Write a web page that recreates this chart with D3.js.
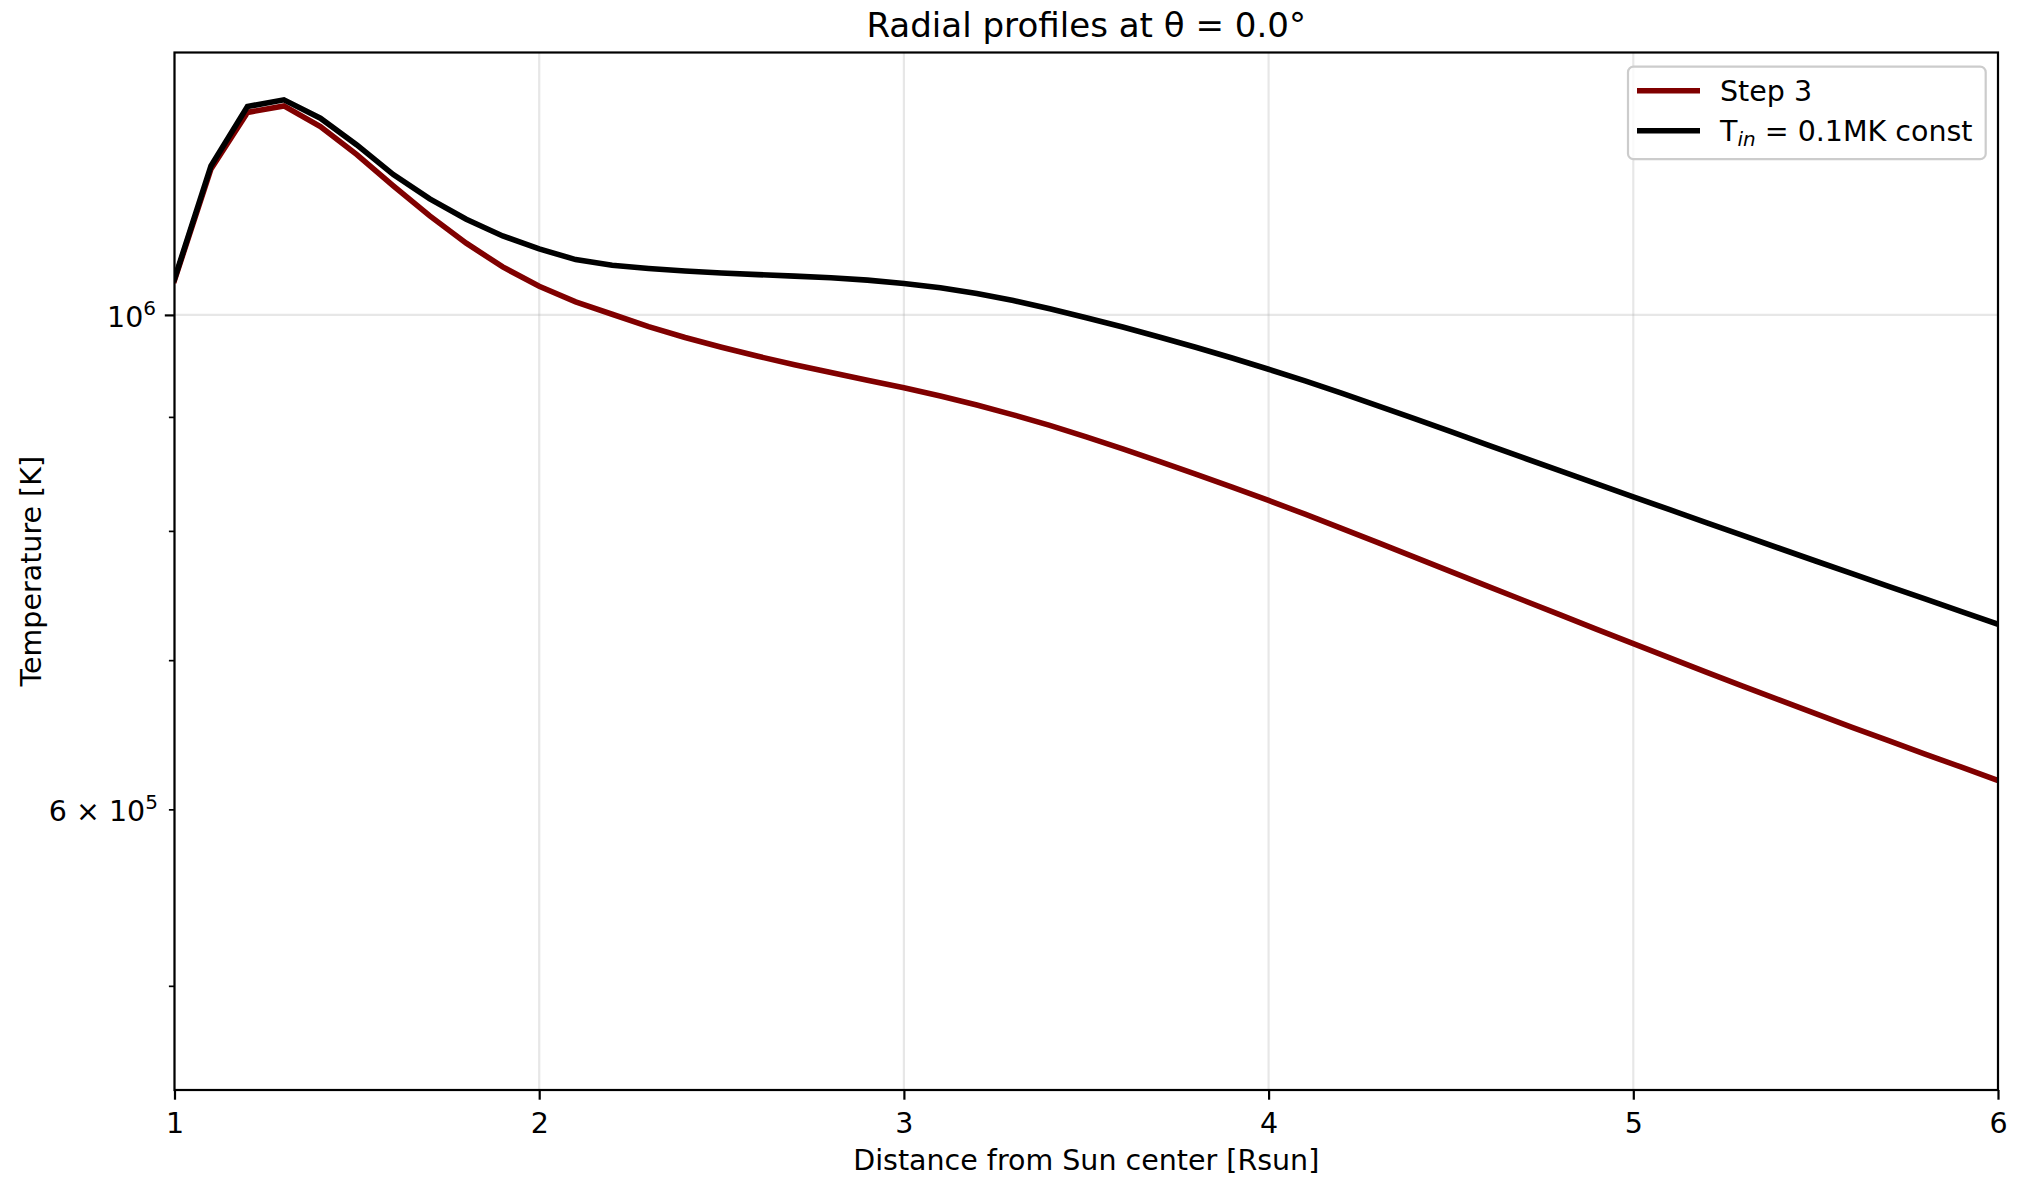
<!DOCTYPE html>
<html>
<head>
<meta charset="utf-8">
<script src="https://cdn.jsdelivr.net/npm/d3@7"></script>
<style>
  html, body { margin: 0; padding: 0; background: #fff; }
  svg text { font-family: "DejaVu Sans", sans-serif; fill: #000; }
</style>
</head>
<body>
<svg id="chart" width="2023" height="1179"></svg>
<script>
// Radial sample points [Rsun]
const radius = [
  1.0, 1.1, 1.2, 1.3, 1.4, 1.5, 1.6, 1.7, 1.8, 1.9,
  2.0, 2.1, 2.2, 2.3, 2.4, 2.5, 2.6, 2.7, 2.8, 2.9,
  3.0, 3.1, 3.2, 3.3, 3.4, 3.5, 3.6, 3.7, 3.8, 3.9,
  4.0, 4.1, 4.2, 4.3, 4.4, 4.5, 4.6, 4.7, 4.8, 4.9,
  5.0, 5.1, 5.2, 5.3, 5.4, 5.5, 5.6, 5.7, 5.8, 5.9,
  6.0
];

// Temperature [K], "Step 3" run
const tempStep3 = [
  1036500, 1162800, 1232700, 1241000, 1214800, 1180100, 1142600, 1107700, 1076900, 1050800,
  1030100, 1013500, 1000700, 987900, 976900, 967100, 958100, 949900, 942200, 934700,
  927500, 919600, 911100, 901900, 892100, 881600, 870700, 859600, 848400, 837100,
  825600, 813900, 802100, 790300, 778700, 767100, 755700, 744500, 733500, 722600,
  712000, 701600, 691400, 681500, 671800, 662300, 653100, 644100, 635300, 626700,
  618200
];

// Temperature [K], constant inner boundary T_in = 0.1 MK
const tempConst = [
  1037900, 1166400, 1240200, 1248800, 1225400, 1192000, 1156000, 1127300, 1103900, 1085000,
  1070600, 1058800, 1052700, 1049200, 1046400, 1044200, 1042500, 1040900, 1039100, 1036600,
  1033000, 1028500, 1022400, 1015000, 1006400, 997100, 987500, 977400, 967100, 956400,
  945400, 934100, 922400, 910400, 898400, 886300, 874400, 862600, 851100, 839800,
  828700, 817700, 806900, 796300, 785800, 775500, 765400, 755500, 745700, 736000,
  726400
];

const xTicks = [1, 2, 3, 4, 5, 6];
const yMajorTicks = [1e6];
const yMinorTicks = [5e5, 6e5, 7e5, 8e5, 9e5];
const yMinorLabels = { 600000: ["6 \u00d7 10", "5"] };

const seriesNames = ["Step 3", "T_in = 0.1MK const"];
const seriesColors = ["#800000", "#000000"];

const svg = d3.select("#chart");
const plotLeft = 174.5, plotRight = 1998, plotTop = 52.5, plotBottom = 1090;
const fs = 28.5, fsSmall = 20, fsTitle = 34.1;

const x = d3.scaleLinear().domain([1, 6]).range([plotLeft, plotRight]);
const y = d3.scaleLog().domain([448990, 1311400]).range([plotBottom, plotTop]);

// grid
const grid = svg.append("g").attr("stroke", "#b0b0b0").attr("stroke-opacity", 0.3).attr("stroke-width", 2.2);
grid.selectAll("line.gx").data(xTicks).join("line").attr("class", "gx")
  .attr("x1", d => x(d)).attr("x2", d => x(d)).attr("y1", plotTop).attr("y2", plotBottom);
grid.selectAll("line.gy").data(yMajorTicks).join("line").attr("class", "gy")
  .attr("x1", plotLeft).attr("x2", plotRight).attr("y1", d => y(d)).attr("y2", d => y(d));

// data lines
svg.append("defs").append("clipPath").attr("id", "plotclip")
  .append("rect").attr("x", plotLeft).attr("y", plotTop)
  .attr("width", plotRight - plotLeft).attr("height", plotBottom - plotTop);

const line = d3.line().x((d, i) => x(radius[i])).y(d => y(d));
const series = [tempStep3, tempConst];
svg.append("g").attr("clip-path", "url(#plotclip)")
  .selectAll("path").data(series).join("path")
  .attr("d", d => line(d))
  .attr("fill", "none")
  .attr("stroke", (d, i) => seriesColors[i])
  .attr("stroke-width", 5.6)
  .attr("stroke-linejoin", "miter")
  .attr("stroke-linecap", "square");

// x axis
const xAxis = d3.axisBottom(x).tickValues(xTicks).tickSize(9.7).tickPadding(9).tickFormat(d3.format("d"));
const gx = svg.append("g").attr("transform", `translate(0,${plotBottom})`).call(xAxis);
gx.select(".domain").remove();
gx.selectAll(".tick line").attr("stroke", "#000").attr("stroke-width", 2.2);
gx.selectAll(".tick text").attr("font-size", fs).attr("font-family", "DejaVu Sans").attr("dy", null)
  .attr("y", 42.5);

// y axis ticks
const yAxis = d3.axisLeft(y).tickValues(yMajorTicks).tickSize(9.7).tickFormat("");
const gy = svg.append("g").attr("transform", `translate(${plotLeft},0)`).call(yAxis);
gy.select(".domain").remove();
gy.selectAll(".tick line").attr("stroke", "#000").attr("stroke-width", 2.2);
const yAxisMinor = d3.axisLeft(y).tickValues(yMinorTicks).tickSize(5.6).tickFormat("");
const gyMinor = svg.append("g").attr("transform", `translate(${plotLeft},0)`).call(yAxisMinor);
gyMinor.select(".domain").remove();
gyMinor.selectAll(".tick line").attr("stroke", "#000").attr("stroke-width", 1.7);

// y tick labels
const majLab = svg.append("text").attr("x", 156).attr("y", y(1e6) + 11.8)
  .attr("text-anchor", "end").attr("font-size", fs);
majLab.append("tspan").text("10");
majLab.append("tspan").attr("font-size", fsSmall).attr("dy", -12).text("6");

Object.entries(yMinorLabels).forEach(([v, parts]) => {
  const t = svg.append("text").attr("x", 158).attr("y", y(+v) + 11.3)
    .attr("text-anchor", "end").attr("font-size", fs);
  t.append("tspan").text(parts[0]);
  t.append("tspan").attr("font-size", fsSmall).attr("dy", -12).text(parts[1]);
});

// spines
svg.append("rect").attr("x", plotLeft).attr("y", plotTop)
  .attr("width", plotRight - plotLeft).attr("height", plotBottom - plotTop)
  .attr("fill", "none").attr("stroke", "#000").attr("stroke-width", 2.2);

// title and axis labels
svg.append("text").attr("x", (plotLeft + plotRight) / 2).attr("y", 37).attr("text-anchor", "middle")
  .attr("font-size", fsTitle).text("Radial profiles at \u03b8 = 0.0\u00b0");
svg.append("text").attr("x", (plotLeft + plotRight) / 2).attr("y", 1170).attr("text-anchor", "middle")
  .attr("font-size", fs).text("Distance from Sun center [Rsun]");
svg.append("text").attr("transform", `translate(41,${(plotTop + plotBottom) / 2}) rotate(-90)`)
  .attr("text-anchor", "middle").attr("font-size", fs).text("Temperature [K]");

// legend
const lg = svg.append("g");
lg.append("rect").attr("x", 1628).attr("y", 66.7).attr("width", 357.7).attr("height", 92.5)
  .attr("rx", 5.5).attr("fill", "#fff").attr("fill-opacity", 0.8)
  .attr("stroke", "#cccccc").attr("stroke-width", 2.2);
const rowY = [90.7, 130.7];
seriesNames.forEach((name, i) => {
  lg.append("line").attr("x1", 1637).attr("x2", 1700).attr("y1", rowY[i]).attr("y2", rowY[i])
    .attr("stroke", seriesColors[i]).attr("stroke-width", 5.6);
  const t = lg.append("text").attr("x", 1720).attr("y", rowY[i] + 9.8).attr("font-size", fs);
  if (name.includes("_")) {
    const [base, rest] = name.split("_");
    const sub = rest.split(" ")[0];
    const tail = rest.slice(sub.length);
    t.append("tspan").text(base);
    t.append("tspan").attr("font-size", fsSmall).attr("font-style", "italic").attr("dy", 5.5).text(sub);
    t.append("tspan").attr("dy", -5.5).text(tail.replace(/^ /, "\u00a0"));
  } else {
    t.text(name);
  }
});
</script>
</body>
</html>
